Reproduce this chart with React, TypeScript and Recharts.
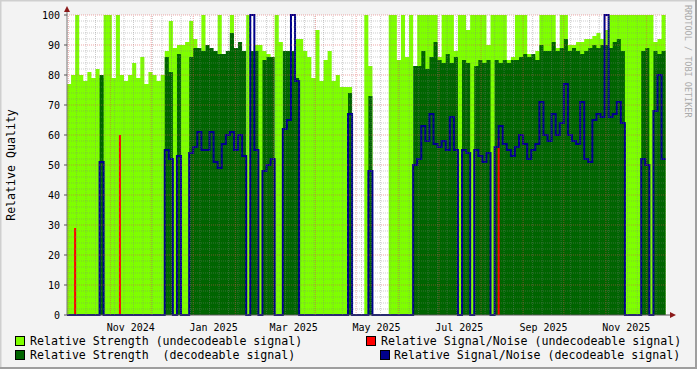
import { ComposedChart, Area, Line, Bar, XAxis, YAxis, ReferenceLine } from "recharts";

// one sample every 3 days, starting Mon 30 Sep 2024
const START = Date.UTC(2024, 8, 30);
const STEP = 3;
const DAYS = 442;

// Relative Strength (undecodeable signal)
const strengthUndecodeable = [
  77, 80, 100, 80, 78, 81, 79, 82, 79, 100,
  100, 79, 100, 80, 78, 80, 84, 79, 86, 77,
  81, 80, 78, 80, 88, 98, 89, 90, 90, 91,
  98, 92, 0, 100, 0, 0, 0, 100, 0, 0,
  100, 0, 0, 0, 100, 0, 90, 90, 88, 87,
  0, 100, 91, 0, 0, 0, 92, 92, 88, 86,
  79, 95, 78, 85, 88, 78, 80, 76, 76, 76,
  0, 0, 0, 100, 83, 0, 0, 0, 0, 100,
  100, 85, 100, 86, 100, 0, 100, 100, 100, 100,
  100, 86, 100, 100, 100, 88, 100, 100, 95, 100,
  100, 100, 100, 90, 100, 100, 100, 100, 85, 86,
  100, 100, 100, 87, 86, 88, 100, 100, 100, 100,
  89, 100, 100, 90, 90, 91, 91, 92, 92, 93,
  94, 92, 95, 100, 100, 100, 100, 100, 100, 100,
  100, 100, 100, 100, 91, 92, 100, 100,
];

// Relative Strength (decodeable signal)
const strengthDecodeable = [
  0, 0, 0, 0, 0, 0, 0, 0, 80, 0,
  0, 0, 0, 0, 0, 0, 0, 0, 0, 0,
  0, 0, 0, 0, 86, 81, 0, 87, 0, 0,
  86, 89, 89, 88, 90, 89, 88, 87, 87, 88,
  94, 89, 91, 88, 0, 88, 88, 0, 85, 86,
  86, 0, 0, 88, 88, 88, 79, 0, 0, 0,
  0, 0, 0, 0, 0, 0, 0, 0, 0, 74,
  0, 0, 0, 0, 73, 0, 0, 0, 0, 0,
  0, 0, 0, 0, 0, 83, 83, 88, 82, 86,
  91, 85, 84, 87, 84, 86, 0, 85, 84, 0,
  83, 85, 84, 85, 0, 85, 84, 85, 84, 85,
  85, 86, 87, 86, 87, 85, 90, 88, 88, 91,
  88, 89, 92, 88, 89, 88, 87, 88, 89, 90,
  89, 90, 90, 89, 91, 92, 88, 0, 0, 0,
  0, 88, 89, 0, 88, 87, 88, 88,
];

// Relative Signal/Noise (decodeable signal)
const snrDecodeable = [
  0, 0, 0, 0, 0, 0, 0, 0, 51, 0,
  0, 0, 0, 0, 0, 0, 0, 0, 0, 0,
  0, 0, 0, 0, 55, 52, 0, 53, 0, 0,
  54, 56, 61, 55, 55, 61, 51, 49, 57, 60,
  61, 55, 60, 53, 0, 100, 55, 0, 48, 50,
  52, 0, 0, 62, 65, 100, 78, 0, 0, 0,
  0, 0, 0, 0, 0, 0, 0, 0, 0, 67,
  0, 0, 0, 0, 48, 0, 0, 0, 0, 0,
  0, 0, 0, 0, 0, 50, 52, 63, 58, 67,
  57, 56, 58, 55, 66, 55, 0, 55, 54, 0,
  55, 53, 51, 54, 0, 56, 63, 57, 55, 53,
  56, 60, 57, 52, 55, 57, 71, 60, 58, 67,
  60, 64, 77, 60, 58, 57, 71, 52, 51, 65,
  67, 66, 100, 66, 67, 71, 64, 0, 0, 0,
  0, 52, 50, 0, 68, 80, 52, 52,
];

// Relative Signal/Noise (undecodeable signal): only three short readings
const snrUndecodeableIndex = [2, 13, 106];
const snrUndecodeableValue = [29, 60, 59];

const yTicks = [0, 10, 20, 30, 40, 50, 60, 70, 80, 90, 100];
const xTickLabels = ["Nov 2024", "Jan 2025", "Mar 2025", "May 2025", "Jul 2025", "Sep 2025", "Nov 2025"];
const xTickMonths = [[2024, 10], [2025, 0], [2025, 2], [2025, 4], [2025, 6], [2025, 8], [2025, 10]];

const dayOf = (y: number, m: number, d = 1) => Math.round((Date.UTC(y, m, d) - START) / 86400000);

const data = strengthUndecodeable.map((v, i) => {
  const k = snrUndecodeableIndex.indexOf(i);
  return {
    d: i * STEP,
    weak: v,
    strong: strengthDecodeable[i],
    snr: snrDecodeable[i],
    snrWeak: k >= 0 ? snrUndecodeableValue[k] : 0,
  };
});

// label sits mid-month, like rrdtool does
const labelDays = xTickMonths.map(([y, m]) => dayOf(y, m, 16));
const labelFor: Record<number, string> = {};
labelDays.forEach((d, i) => (labelFor[d] = xTickLabels[i]));

const monthLines: number[] = [];
for (let k = 1; k <= 15; k++) {
  const d = dayOf(2024, 8 + k, 1);
  if (d > 0 && d < DAYS) monthLines.push(d);
}
const weekLines: number[] = [];
for (let d = 7; d < DAYS; d += 7) if (!monthLines.includes(d)) weekLines.push(d);
const minorY: number[] = [];
for (let v = 2; v < 100; v += 2) if (v % 10 !== 0) minorY.push(v);
const majorY = [10, 20, 30, 40, 50, 60, 70, 80, 90, 100];

const MINOR = "rgba(130,130,130,0.4)";
const MAJOR = "rgba(222,80,80,0.5)";
const MONO = "'DejaVu Sans Mono', monospace";

const LIGHT = "#7FFF00";
const DARK = "#006400";
const BLUE = "#00008B";
const RED = "#FF0000";

export default function App() {
  return (
    <div style={{ position: "absolute", left: 0, top: 0, width: 697, height: 369, background: "#f3f3f3", overflow: "hidden" }}>
      <div style={{ position: "absolute", left: 67, top: 15, width: 600, height: 300, background: "#fff" }} />
      <div style={{ position: "absolute", left: 0, top: 0 }}>
        <ComposedChart width={697} height={369} data={data} margin={{ top: 15, right: 30, bottom: 34, left: 0 }}>
          <XAxis
            dataKey="d"
            type="number"
            domain={[0, DAYS]}
            ticks={labelDays}
            tickFormatter={(d: number) => labelFor[d] ?? ""}
            tick={{ fontFamily: MONO, fontSize: 10, fill: "#000" }}
            tickLine={false}
            axisLine={{ stroke: "#555" }}
            tickMargin={3}
            height={20}
            interval={0}
          />
          <YAxis
            type="number"
            domain={[0, 100]}
            ticks={yTicks}
            width={67}
            tick={{ fontFamily: MONO, fontSize: 10, fill: "#000" }}
            tickSize={3}
            tickLine={{ stroke: "#555" }}
            axisLine={{ stroke: "#777" }}
            tickMargin={4}
            interval={0}
          />
          <Area dataKey="weak" type="stepAfter" fill={LIGHT} fillOpacity={1} stroke="none" isAnimationActive={false} dot={false} activeDot={false} />
          <Area dataKey="strong" type="stepAfter" fill={DARK} fillOpacity={1} stroke="none" isAnimationActive={false} dot={false} activeDot={false} />
          <Bar dataKey="snrWeak" fill={RED} barSize={2} isAnimationActive={false} />
          <Line dataKey="snr" type="stepAfter" stroke={BLUE} strokeWidth={2} dot={false} activeDot={false} isAnimationActive={false} />
          {minorY.map((v) => (
            <ReferenceLine key={"my" + v} y={v} stroke={MINOR} strokeDasharray="1 1" />
          ))}
          {weekLines.map((d) => (
            <ReferenceLine key={"wx" + d} x={d} stroke={MINOR} strokeDasharray="1 1" />
          ))}
          {majorY.map((v) => (
            <ReferenceLine key={"My" + v} y={v} stroke={MAJOR} strokeDasharray="1 1" />
          ))}
          {monthLines.map((d) => (
            <ReferenceLine key={"Mx" + d} x={d} stroke={MAJOR} strokeDasharray="1 1" />
          ))}
        </ComposedChart>
      </div>
      <svg width={697} height={369} style={{ position: "absolute", left: 0, top: 0, pointerEvents: "none" }}>
        {/* frame */}
        <line x1={0} y1={0.5} x2={697} y2={0.5} stroke="#cfcfcf" strokeWidth={2} />
        <line x1={0.5} y1={0} x2={0.5} y2={369} stroke="#cfcfcf" strokeWidth={2} />
        <line x1={0} y1={368} x2={697} y2={368} stroke="#9e9e9e" strokeWidth={2} />
        <line x1={696} y1={0} x2={696} y2={369} stroke="#9e9e9e" strokeWidth={2} />
        {/* axis arrows */}
        <line x1={67} y1={15} x2={67} y2={10} stroke="#777" />
        <polygon points="64,12 70,12 67,6" fill="#8b1a1a" />
        <line x1={667} y1={315} x2={672} y2={315} stroke="#555" />
        <polygon points="670,312 670,318 676,315" fill="#8b1a1a" />
        <text transform="translate(15,165) rotate(-90)" textAnchor="middle" fontFamily={MONO} fontSize={11.6} fill="#000">
          Relative Quality
        </text>
        <text transform="translate(685,5) rotate(90)" fontFamily={MONO} fontSize={8.5} fill="#aaa">
          RRDTOOL / TOBI OETIKER
        </text>
        {/* legend */}
        <rect x={15.5} y={336.5} width={9} height={9} fill={LIGHT} stroke="#000" />
        <text x={30} y={345} fontFamily={MONO} fontSize={11.6} fill="#000" style={{ whiteSpace: "pre" }}>
          Relative Strength (undecodeable signal)
        </text>
        <rect x={366.5} y={336.5} width={9} height={9} fill={RED} stroke="#000" />
        <text x={381} y={345} fontFamily={MONO} fontSize={11.6} fill="#000" style={{ whiteSpace: "pre" }}>
          Relative Signal/Noise (undecodeable signal)
        </text>
        <rect x={15.5} y={350.5} width={9} height={9} fill={DARK} stroke="#000" />
        <text x={30} y={359} fontFamily={MONO} fontSize={11.6} fill="#000" style={{ whiteSpace: "pre" }}>
          {"Relative Strength  (decodeable signal)"}
        </text>
        <rect x={380.5} y={350.5} width={9} height={9} fill={BLUE} stroke="#000" />
        <text x={394} y={359} fontFamily={MONO} fontSize={11.6} fill="#000" style={{ whiteSpace: "pre" }}>
          Relative Signal/Noise (decodeable signal)
        </text>
      </svg>
    </div>
  );
}
